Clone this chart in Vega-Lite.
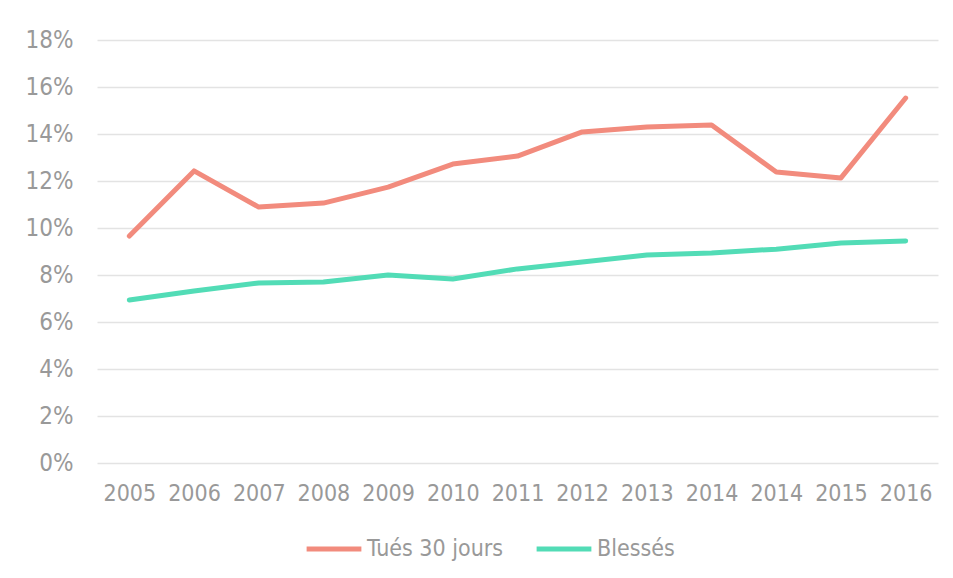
{
  "$schema": "https://vega.github.io/schema/vega-lite/v6.json",
  "width": 841,
  "height": 423,
  "autosize": "none",
  "padding": {"left": 97, "top": 40, "right": 15, "bottom": 115},
  "background": "white",
  "config": {
    "view": {"stroke": null},
    "font": "DejaVu Sans Condensed"
  },
  "data": {
    "values": [
      {"annee": "2005", "serie": "Tués 30 jours", "taux": 0.0966},
      {"annee": "2006", "serie": "Tués 30 jours", "taux": 0.1243},
      {"annee": "2007", "serie": "Tués 30 jours", "taux": 0.1089},
      {"annee": "2008", "serie": "Tués 30 jours", "taux": 0.1106},
      {"annee": "2009", "serie": "Tués 30 jours", "taux": 0.1174},
      {"annee": "2010", "serie": "Tués 30 jours", "taux": 0.1272},
      {"annee": "2011", "serie": "Tués 30 jours", "taux": 0.1306},
      {"annee": "2012", "serie": "Tués 30 jours", "taux": 0.1409},
      {"annee": "2013", "serie": "Tués 30 jours", "taux": 0.1430},
      {"annee": "2014", "serie": "Tués 30 jours", "taux": 0.1438},
      {"annee": "2014 ", "serie": "Tués 30 jours", "taux": 0.1238},
      {"annee": "2015", "serie": "Tués 30 jours", "taux": 0.1213},
      {"annee": "2016", "serie": "Tués 30 jours", "taux": 0.1553},
      {"annee": "2005", "serie": "Blessés", "taux": 0.0694},
      {"annee": "2006", "serie": "Blessés", "taux": 0.0732},
      {"annee": "2007", "serie": "Blessés", "taux": 0.0766},
      {"annee": "2008", "serie": "Blessés", "taux": 0.0770},
      {"annee": "2009", "serie": "Blessés", "taux": 0.0800},
      {"annee": "2010", "serie": "Blessés", "taux": 0.0783},
      {"annee": "2011", "serie": "Blessés", "taux": 0.0826},
      {"annee": "2012", "serie": "Blessés", "taux": 0.0855},
      {"annee": "2013", "serie": "Blessés", "taux": 0.0885},
      {"annee": "2014", "serie": "Blessés", "taux": 0.0894},
      {"annee": "2014 ", "serie": "Blessés", "taux": 0.0910},
      {"annee": "2015", "serie": "Blessés", "taux": 0.0936},
      {"annee": "2016", "serie": "Blessés", "taux": 0.0945}
    ]
  },
  "mark": {"type": "line", "strokeWidth": 5, "strokeCap": "round", "strokeJoin": "round"},
  "encoding": {
    "x": {
      "field": "annee",
      "type": "ordinal",
      "sort": null,
      "scale": {"type": "point", "padding": 0.5},
      "axis": {
        "title": null,
        "labelAngle": 0,
        "labelFontSize": 23,
        "labelColor": "#999999",
        "labelPadding": 19,
        "ticks": false,
        "domain": false,
        "grid": false
      }
    },
    "y": {
      "field": "taux",
      "type": "quantitative",
      "scale": {"domain": [0, 0.18]},
      "axis": {
        "title": null,
        "format": ".0%",
        "values": [0, 0.02, 0.04, 0.06, 0.08, 0.1, 0.12, 0.14, 0.16, 0.18],
        "labelFontSize": 24,
        "labelColor": "#999999",
        "labelPadding": 24,
        "ticks": false,
        "domain": false,
        "gridColor": "#e3e3e3",
        "gridWidth": 1.5
      }
    },
    "color": {
      "field": "serie",
      "type": "nominal",
      "scale": {"domain": ["Tués 30 jours", "Blessés"], "range": ["#f28b7d", "#52dcb6"]},
      "legend": {
        "title": null,
        "orient": "none",
        "legendX": 207,
        "legendY": 479,
        "direction": "horizontal",
        "symbolType": "stroke",
        "symbolSize": 3000,
        "symbolStrokeWidth": 5,
        "labelFontSize": 23,
        "labelColor": "#999999",
        "labelOffset": 3,
        "columnPadding": 22
      }
    }
  }
}
